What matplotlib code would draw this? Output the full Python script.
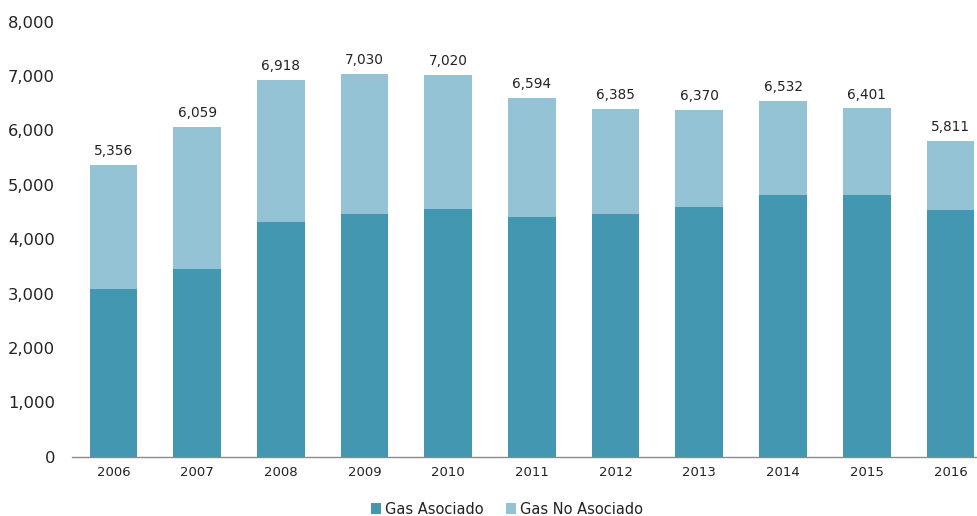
import numpy as np
import matplotlib; matplotlib.use("Agg")
import matplotlib.pyplot as plt

years = ["2006", "2007", "2008", "2009", "2010", "2011", "2012", "2013", "2014", "2015", "2016"]
gas_asociado = [3077, 3445, 4309, 4467, 4553, 4412, 4467, 4596, 4816, 4816, 4540]
gas_no_asociado = [2279, 2614, 2609, 2563, 2467, 2182, 1918, 1774, 1716, 1585, 1271]
totales = [5356, 6059, 6918, 7030, 7020, 6594, 6385, 6370, 6532, 6401, 5811]
yticks = [0, 1000, 2000, 3000, 4000, 5000, 6000, 7000, 8000]

DARK = "#4397b0"
LIGHT = "#94c3d5"

plt.rcParams["font.family"] = ["DejaVu Sans"]

fig = plt.figure(figsize=(9.78, 5.16), dpi=100)
ax = fig.add_axes([71.7 / 978, (516 - 456.7) / 516, (978 - 71.7) / 978, 435.2 / 516])

x = np.arange(len(years))
w = 0.57
ax.bar(x, gas_asociado, w, color=DARK, label="Gas Asociado")
ax.bar(x, gas_no_asociado, w, bottom=gas_asociado, color=LIGHT, label="Gas No Asociado")

for xi, t in zip(x, totales):
    ax.annotate(f"{t:,}", (xi, t), xytext=(0, 5), textcoords="offset points",
                ha="center", va="bottom", fontsize=9.8, color="#222222")

ax.set_xlim(-0.5, 10.33)
ax.set_ylim(0, 8000)
ax.set_xticks(x)
ax.set_xticklabels(years, fontsize=9.5, color="#222222")
ax.set_yticks(yticks)
ax.set_yticklabels([f"{v:,}" for v in yticks], fontsize=11.8, color="#222222")
ax.tick_params(axis="y", length=0, pad=12)
ax.tick_params(axis="x", length=0, pad=7)

for s in ["top", "right", "left"]:
    ax.spines[s].set_visible(False)
ax.spines["bottom"].set_color("#8a8a8a")
ax.spines["bottom"].set_linewidth(1.0)

fig.legend(loc="center", bbox_to_anchor=(507 / 978, 1 - 509 / 516), ncol=2,
           frameon=False, fontsize=10.5, handlelength=0.7, handleheight=0.7,
           handletextpad=0.3, columnspacing=1.5, labelcolor="#222222")

fig.savefig("out.png", dpi=100)
